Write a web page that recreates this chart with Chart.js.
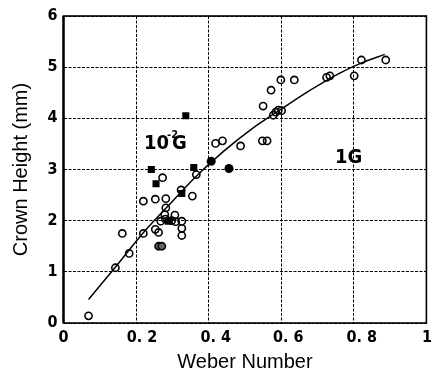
<!DOCTYPE html>
<html>
<head>
<meta charset="utf-8">
<script src="https://cdn.jsdelivr.net/npm/chart.js@4/dist/chart.umd.min.js"></script>
<style>
  html, body { margin: 0; padding: 0; background: #fff; }
  #wrap { width: 432px; height: 377px; }
</style>
</head>
<body>
<div id="wrap"><canvas id="crown-chart" width="432" height="377"></canvas></div>
<script>
(function () {
  "use strict";

  // 1G runs (open circles)
  var openX = [0.069, 0.143, 0.181, 0.162, 0.220, 0.220, 0.253, 0.253, 0.262, 0.282,
    0.282, 0.279, 0.268, 0.281, 0.298, 0.307, 0.309, 0.326, 0.326, 0.326,
    0.355, 0.324, 0.273, 0.366, 0.419, 0.438, 0.488, 0.548, 0.561, 0.550,
    0.572, 0.599, 0.636, 0.578, 0.592, 0.601, 0.585, 0.725, 0.734, 0.801,
    0.821, 0.888];
  var openY = [0.14, 1.08, 1.36, 1.75, 1.75, 2.38, 2.42, 1.83, 1.77, 2.43,
    2.25, 2.12, 1.99, 2.03, 2.00, 2.11, 1.98, 1.99, 1.85, 1.71,
    2.48, 2.60, 2.84, 2.90, 3.51, 3.56, 3.46, 3.56, 3.56, 4.24,
    4.55, 4.75, 4.75, 4.06, 4.16, 4.15, 4.12, 4.80, 4.83, 4.83,
    5.14, 5.14];

  // overlapping pair drawn shaded
  var shadedX = [0.262, 0.271];
  var shadedY = [1.50, 1.50];

  // 10^-2 G runs (filled squares)
  var squareX = [0.337, 0.242, 0.255, 0.359, 0.326, 0.289];
  var squareY = [4.05, 3.00, 2.72, 3.04, 2.53, 1.99];

  // filled circles
  var dotX = [0.407, 0.456];
  var dotY = [3.16, 3.02];

  // fitted curve
  var curveX = [0.069, 0.144, 0.217, 0.290, 0.363, 0.440, 0.520, 0.600, 0.680, 0.760, 0.820, 0.885];
  var curveY = [0.46, 1.10, 1.74, 2.30, 2.85, 3.35, 3.80, 4.18, 4.55, 4.88, 5.08, 5.25];

  var xTickValues = [0, 0.2, 0.4, 0.6, 0.8, 1];
  var xTickLabels = ["0", "0. 2", "0. 4", "0. 6", "0. 8", "1"];
  var xTickShift = [0, 6, 7, 7, 8, 3];

  var tickFont = '"Liberation Sans Narrow", "DejaVu Sans Condensed", "Liberation Sans", Arial, sans-serif';
  var titleFont = '"Liberation Sans", Arial, Helvetica, sans-serif';

  function pts(xs, ys) {
    return xs.map(function (x, i) {
      return { x: x, y: ys[i] };
    });
  }

  var framePlugin = {
    id: "frame",
    afterDatasetsDraw: function (chart) {
      var a = chart.chartArea;
      var ctx = chart.ctx;
      ctx.save();
      ctx.strokeStyle = "#000";
      ctx.lineWidth = 1.6;
      ctx.strokeRect(a.left, a.top, a.right - a.left, a.bottom - a.top);
      ctx.lineWidth = 2.4;
      ctx.beginPath();
      ctx.moveTo(a.left, a.top);
      ctx.lineTo(a.left, a.bottom);
      ctx.stroke();
      ctx.restore();
    },
  };

  // x tick labels sit a little right of their grid lines in the original
  var xLabelPlugin = {
    id: "xLabels",
    afterDraw: function (chart) {
      var ctx = chart.ctx;
      var xs = chart.scales.x;
      ctx.save();
      ctx.fillStyle = "#000";
      ctx.font = "bold 16px " + tickFont;
      ctx.textAlign = "center";
      ctx.textBaseline = "top";
      for (var i = 0; i < xTickValues.length; i++) {
        var px = xs.getPixelForValue(xTickValues[i]) + xTickShift[i];
        if (i === xTickValues.length - 1) {
          ctx.textAlign = "right";
          px = 432;
        }
        ctx.fillText(xTickLabels[i], px, chart.chartArea.bottom + 7);
      }
      ctx.restore();
    },
  };

  var labelPlugin = {
    id: "groupLabels",
    afterDatasetsDraw: function (chart) {
      var ctx = chart.ctx;
      var xs = chart.scales.x;
      var ys = chart.scales.y;
      ctx.save();
      ctx.fillStyle = "#000";
      ctx.textBaseline = "alphabetic";
      ctx.font = "bold 20px " + tickFont;
      var px = xs.getPixelForValue(0.222);
      var py = ys.getPixelForValue(3.4);
      ctx.fillText("10", px, py);
      var w = ctx.measureText("10").width;
      ctx.font = "bold 11px " + tickFont;
      ctx.fillText("-2", px + w - 2, py - 11);
      ctx.font = "bold 20px " + tickFont;
      ctx.fillText("G", px + w + 3, py);
      ctx.fillText("1G", xs.getPixelForValue(0.748), ys.getPixelForValue(3.13));
      ctx.restore();
    },
  };

  var grid = {
    color: "#000",
    lineWidth: 1,
    drawTicks: false,
  };

  new Chart(document.getElementById("crown-chart"), {
    type: "scatter",
    data: {
      datasets: [
        {
          label: "fit",
          data: pts(curveX, curveY),
          showLine: true,
          borderColor: "#000",
          borderWidth: 1.5,
          pointRadius: 0,
          cubicInterpolationMode: "monotone",
        },
        {
          label: "1G",
          data: pts(openX, openY),
          pointStyle: "circle",
          pointRadius: 3.6,
          pointBorderWidth: 1.6,
          borderColor: "#000",
          backgroundColor: "rgba(255,255,255,0)",
        },
        {
          label: "1G shaded",
          data: pts(shadedX, shadedY),
          pointStyle: "circle",
          pointRadius: 3.6,
          pointBorderWidth: 1.6,
          borderColor: "#000",
          backgroundColor: "#666",
        },
        {
          label: "10^-2G",
          data: pts(squareX, squareY),
          pointStyle: "rect",
          pointRadius: 5,
          pointBorderWidth: 0,
          borderColor: "#000",
          backgroundColor: "#000",
        },
        {
          label: "dots",
          data: pts(dotX, dotY),
          pointStyle: "circle",
          pointRadius: 4.5,
          pointBorderWidth: 0,
          borderColor: "#000",
          backgroundColor: "#000",
        },
      ],
    },
    options: {
      responsive: false,
      animation: false,
      events: [],
      layout: { padding: { top: 16, right: 4, left: 0, bottom: 0 } },
      plugins: {
        legend: { display: false },
        tooltip: { enabled: false },
      },
      scales: {
        x: {
          type: "linear",
          min: 0,
          max: 1,
          afterFit: function (scale) {
            scale.height = 54;
          },
          border: { display: false, dash: [3, 1.5] },
          grid: grid,
          ticks: { stepSize: 0.2, display: false },
          title: {
            display: true,
            text: "Weber Number",
            color: "#000",
            padding: { top: 0, bottom: 3 },
            font: { family: titleFont, size: 20 },
          },
        },
        y: {
          type: "linear",
          min: 0,
          max: 6,
          afterFit: function (scale) {
            scale.width = 63.5;
          },
          border: { display: false, dash: [3, 1.5] },
          grid: grid,
          ticks: {
            stepSize: 1,
            color: "#000",
            padding: 6,
            font: { family: tickFont, size: 16, weight: "bold" },
          },
          title: {
            display: true,
            text: "Crown Height (mm)",
            color: "#000",
            padding: { top: 9, bottom: 0 },
            font: { family: titleFont, size: 20 },
          },
        },
      },
    },
    plugins: [framePlugin, xLabelPlugin, labelPlugin],
  });
})();
</script>
</body>
</html>
